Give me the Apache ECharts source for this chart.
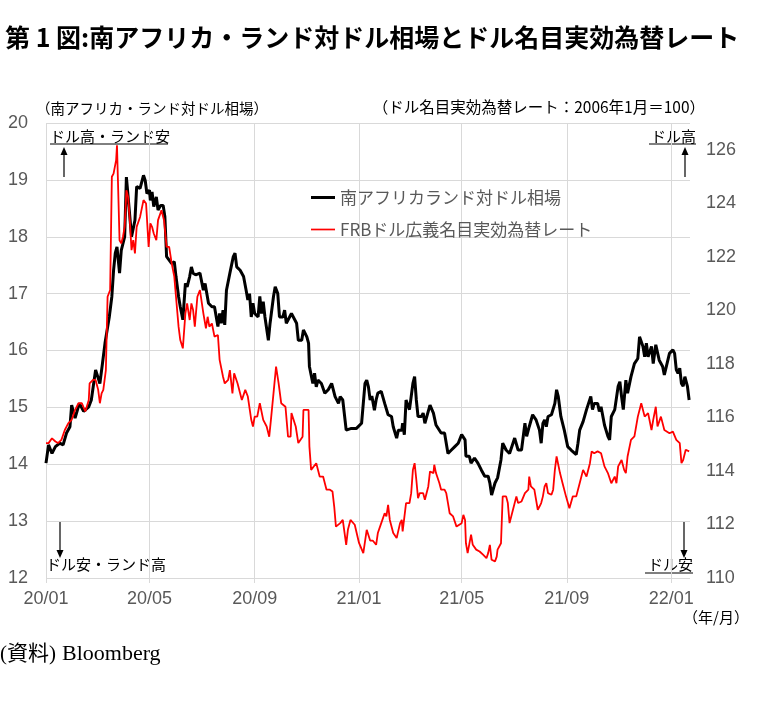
<!DOCTYPE html>
<html>
<head>
<meta charset="utf-8">
<script src="https://cdn.jsdelivr.net/npm/echarts@6/dist/echarts.min.js"></script>
<style>
  html, body { margin: 0; padding: 0; background: #fff; }
  #chart { width: 760px; height: 723px; }
</style>
</head>
<body>
<div id="chart"></div>
<script>
// 南アフリカ・ランド対ドル相場 (left axis)
const zarDates = [
  '2020-01-01','2020-01-04','2020-01-08','2020-01-12','2020-01-17','2020-01-21','2020-01-25','2020-01-29','2020-01-31',
  '2020-02-04','2020-02-09','2020-02-14','2020-02-20','2020-02-23','2020-02-28',
  '2020-03-04','2020-03-07','2020-03-10','2020-03-15','2020-03-18','2020-03-20','2020-03-22','2020-03-24','2020-03-27','2020-03-29',
  '2020-04-02','2020-04-04','2020-04-05','2020-04-07','2020-04-10','2020-04-14','2020-04-16','2020-04-20','2020-04-24','2020-04-26','2020-04-28',
  '2020-05-01','2020-05-02','2020-05-04','2020-05-06','2020-05-09','2020-05-11','2020-05-14','2020-05-17','2020-05-19','2020-05-21','2020-05-24','2020-05-27','2020-05-30',
  '2020-06-01','2020-06-04','2020-06-06','2020-06-09','2020-06-12','2020-06-14','2020-06-17','2020-06-19','2020-06-21','2020-06-24','2020-06-26','2020-06-29',
  '2020-07-03','2020-07-05','2020-07-09','2020-07-13','2020-07-16','2020-07-20','2020-07-22','2020-07-24','2020-07-26','2020-07-28','2020-07-30',
  '2020-08-03','2020-08-07','2020-08-09','2020-08-11','2020-08-15','2020-08-19','2020-08-22','2020-08-24','2020-08-26','2020-08-28','2020-08-30',
  '2020-09-01','2020-09-05','2020-09-07','2020-09-09','2020-09-11','2020-09-13','2020-09-17','2020-09-19','2020-09-23','2020-09-25','2020-09-28','2020-09-30',
  '2020-10-04','2020-10-06','2020-10-08','2020-10-14','2020-10-20','2020-10-22','2020-10-26','2020-10-28',
  '2020-11-01','2020-11-03','2020-11-04','2020-11-08','2020-11-10','2020-11-12','2020-11-14','2020-11-18','2020-11-22','2020-11-26','2020-11-30',
  '2020-12-04','2020-12-08','2020-12-10','2020-12-13','2020-12-17','2020-12-23','2020-12-29',
  '2021-01-04','2021-01-06','2021-01-08','2021-01-10','2021-01-12','2021-01-14','2021-01-16','2021-01-19','2021-01-21','2021-01-23','2021-01-27','2021-01-31',
  '2021-02-04','2021-02-08','2021-02-10','2021-02-14','2021-02-16','2021-02-20','2021-02-21','2021-02-23','2021-02-25',
  '2021-03-01','2021-03-05','2021-03-07','2021-03-09','2021-03-11','2021-03-15','2021-03-17','2021-03-19','2021-03-25','2021-03-29',
  '2021-04-01','2021-04-07','2021-04-11','2021-04-15','2021-04-19','2021-04-23','2021-04-27',
  '2021-05-01','2021-05-05','2021-05-06','2021-05-10','2021-05-12','2021-05-16','2021-05-20','2021-05-24','2021-05-28',
  '2021-06-01','2021-06-03','2021-06-05','2021-06-09','2021-06-12','2021-06-14','2021-06-16','2021-06-18','2021-06-22','2021-06-26','2021-06-30',
  '2021-07-02','2021-07-06','2021-07-10','2021-07-14','2021-07-16','2021-07-19','2021-07-23','2021-07-27','2021-07-31',
  '2021-08-02','2021-08-04','2021-08-06','2021-08-08','2021-08-10','2021-08-14','2021-08-18','2021-08-20','2021-08-22','2021-08-25','2021-08-29',
  '2021-09-02','2021-09-06','2021-09-12','2021-09-14','2021-09-16','2021-09-20','2021-09-24','2021-09-29',
  '2021-10-01','2021-10-03','2021-10-07','2021-10-09','2021-10-11','2021-10-15','2021-10-19','2021-10-21','2021-10-23','2021-10-27','2021-10-31',
  '2021-11-02','2021-11-04','2021-11-06','2021-11-09','2021-11-11','2021-11-15','2021-11-19','2021-11-23','2021-11-25','2021-11-27','2021-11-29',
  '2021-12-01','2021-12-03','2021-12-05','2021-12-09','2021-12-11','2021-12-14','2021-12-18','2021-12-22','2021-12-24','2021-12-26','2021-12-30',
  '2022-01-03','2022-01-05','2022-01-07','2022-01-09','2022-01-11','2022-01-13','2022-01-15','2022-01-17','2022-01-20','2022-01-22'
];
const zarValues = [
  14.02,14.34,14.19,14.31,14.37,14.34,14.55,14.66,15.04,
  14.81,15.07,14.93,15.01,15.13,15.66,
  15.42,15.77,16.13,16.59,16.95,17.41,17.71,17.82,17.36,17.76,
  18.00,19.05,18.88,18.53,18.00,18.29,18.88,18.85,19.08,18.99,18.76,
  18.82,18.64,18.79,18.53,18.70,18.47,18.55,18.55,18.35,17.65,17.59,17.53,17.56,
  17.30,16.95,16.77,16.54,17.18,17.12,17.30,17.47,17.36,17.33,17.36,17.36,
  17.06,17.18,16.83,16.77,16.77,16.42,16.65,16.48,16.71,16.45,17.06,
  17.36,17.65,17.71,17.47,17.41,17.30,17.06,16.89,17.00,16.59,16.83,
  16.65,16.59,16.95,16.65,16.86,16.59,16.18,16.48,16.95,17.12,17.00,16.59,
  16.59,16.71,16.48,16.65,16.48,16.18,16.18,16.36,
  16.24,16.13,15.72,15.42,15.60,15.36,15.48,15.42,15.25,15.31,15.42,
  15.19,15.07,15.19,15.13,14.60,14.63,14.63,
  14.72,15.07,15.42,15.48,15.36,15.13,15.20,14.95,15.13,15.25,15.28,15.07,
  14.87,14.84,14.66,14.46,14.60,14.60,14.72,14.52,15.13,
  14.96,15.42,15.54,15.13,14.84,14.84,14.90,14.72,15.04,14.90,
  14.69,14.55,14.55,14.19,14.25,14.31,14.37,
  14.52,14.43,14.14,14.14,14.02,14.11,14.02,13.90,13.79,
  13.79,13.67,13.46,13.67,13.76,13.79,14.08,14.37,14.25,14.19,14.37,
  14.46,14.25,14.25,14.72,14.49,14.66,14.87,14.78,14.60,
  14.37,14.72,14.78,14.66,14.84,14.87,15.07,15.31,15.19,14.84,14.60,
  14.31,14.25,14.17,14.37,14.60,14.75,14.96,15.19,
  14.96,15.07,15.07,14.93,15.01,14.69,14.49,14.43,14.84,14.96,15.37,
  15.45,15.19,14.96,15.48,15.25,15.54,15.77,15.86,16.24,16.27,16.07,
  15.89,16.13,15.89,16.07,15.77,16.10,15.83,15.72,15.57,15.54,15.95,
  16.01,15.95,15.66,15.60,15.69,15.42,15.37,15.54,15.37,15.13
];

// FRBドル広義名目実効為替レート (right axis, 2006年1月=100)
const usdDates = [
  '2020-01-01','2020-01-04','2020-01-08','2020-01-12','2020-01-15','2020-01-19','2020-01-23','2020-01-27','2020-01-31',
  '2020-02-04','2020-02-08','2020-02-12','2020-02-16','2020-02-20','2020-02-21','2020-02-25','2020-02-28',
  '2020-03-02','2020-03-04','2020-03-06','2020-03-08','2020-03-11','2020-03-13','2020-03-16','2020-03-18','2020-03-20','2020-03-23','2020-03-24','2020-03-25','2020-03-27','2020-03-29','2020-03-31',
  '2020-04-02','2020-04-04','2020-04-06','2020-04-08','2020-04-10','2020-04-12','2020-04-14','2020-04-16','2020-04-20','2020-04-24','2020-04-27','2020-04-30',
  '2020-05-02','2020-05-04','2020-05-06','2020-05-09','2020-05-11','2020-05-15','2020-05-18','2020-05-21','2020-05-24','2020-05-27','2020-05-30',
  '2020-06-01','2020-06-04','2020-06-06','2020-06-09','2020-06-12','2020-06-14','2020-06-17','2020-06-19','2020-06-21','2020-06-23','2020-06-26','2020-06-29',
  '2020-07-03','2020-07-06','2020-07-08','2020-07-10','2020-07-13','2020-07-16','2020-07-20','2020-07-22','2020-07-26','2020-07-28',
  '2020-08-01','2020-08-03','2020-08-06','2020-08-08','2020-08-12','2020-08-17','2020-08-21','2020-08-24','2020-08-28','2020-08-30',
  '2020-09-01','2020-09-04','2020-09-07','2020-09-11','2020-09-15','2020-09-18','2020-09-20','2020-09-23','2020-09-26','2020-09-29',
  '2020-10-02','2020-10-07','2020-10-10','2020-10-13','2020-10-14','2020-10-19','2020-10-22','2020-10-27','2020-10-28',
  '2020-11-03','2020-11-04','2020-11-06','2020-11-12','2020-11-16','2020-11-20','2020-11-24','2020-11-28',
  '2020-12-01','2020-12-03','2020-12-05','2020-12-10','2020-12-13','2020-12-17','2020-12-19','2020-12-22','2020-12-27',
  '2021-01-01','2021-01-06','2021-01-10','2021-01-14','2021-01-17','2021-01-21','2021-01-23','2021-01-27','2021-01-31',
  '2021-02-02','2021-02-04','2021-02-06','2021-02-10','2021-02-14','2021-02-18','2021-02-20','2021-02-21','2021-02-23','2021-02-25',
  '2021-03-01','2021-03-03','2021-03-05','2021-03-07','2021-03-09','2021-03-11','2021-03-13','2021-03-17','2021-03-19','2021-03-23','2021-03-25','2021-03-27','2021-03-29','2021-03-30',
  '2021-04-01','2021-04-05','2021-04-07','2021-04-11','2021-04-13','2021-04-15','2021-04-17','2021-04-21','2021-04-25','2021-04-27',
  '2021-05-01','2021-05-03','2021-05-05','2021-05-06','2021-05-08','2021-05-10','2021-05-12','2021-05-14','2021-05-18','2021-05-22','2021-05-26','2021-05-30',
  '2021-06-01','2021-06-03','2021-06-05','2021-06-09','2021-06-11','2021-06-12','2021-06-16','2021-06-18','2021-06-22','2021-06-24','2021-06-26','2021-06-30',
  '2021-07-04','2021-07-06','2021-07-10','2021-07-14','2021-07-18','2021-07-19','2021-07-21','2021-07-25','2021-07-29','2021-07-31',
  '2021-08-02','2021-08-04','2021-08-06','2021-08-08','2021-08-10','2021-08-14','2021-08-16','2021-08-18','2021-08-20','2021-08-24','2021-08-27','2021-08-31',
  '2021-09-04','2021-09-08','2021-09-12','2021-09-16','2021-09-20','2021-09-24','2021-09-28','2021-09-30',
  '2021-10-03','2021-10-07','2021-10-11','2021-10-15','2021-10-19','2021-10-23','2021-10-27','2021-10-29','2021-10-31',
  '2021-11-04','2021-11-07','2021-11-09','2021-11-11','2021-11-15','2021-11-19','2021-11-23','2021-11-27','2021-11-29',
  '2021-12-01','2021-12-05','2021-12-09','2021-12-11','2021-12-14','2021-12-16','2021-12-20','2021-12-24','2021-12-30',
  '2022-01-03','2022-01-07','2022-01-11','2022-01-13','2022-01-15','2022-01-18','2022-01-22'
];
const usdValues = [
  115.04,115.04,115.22,115.10,115.04,115.16,115.53,115.78,115.91,
  116.28,116.53,116.53,116.22,116.65,117.27,117.40,117.40,
  117.03,116.53,116.90,117.03,117.77,120.51,120.76,124.99,125.11,125.61,126.17,124.99,122.62,122.50,122.75,
  123.12,124.49,124.24,123.37,122.25,122.62,122.13,123.12,123.49,124.12,123.99,122.37,
  123.25,123.12,122.87,122.62,123.37,123.74,123.37,122.37,122.37,121.75,121.26,
  120.51,119.39,118.89,118.58,119.89,120.26,119.64,120.26,120.01,119.39,120.51,120.76,
  119.89,119.33,119.76,119.39,119.51,119.02,119.08,118.15,117.52,117.27,
  117.40,117.77,116.90,117.65,117.27,116.65,117.03,116.78,115.91,115.66,
  116.03,116.03,116.53,115.91,115.66,115.28,115.91,116.90,117.90,117.27,
  116.53,116.40,115.28,115.28,116.16,115.66,115.04,115.28,116.28,
  116.28,114.91,114.04,114.29,113.79,113.79,113.30,113.30,
  113.23,112.67,111.92,112.05,112.17,111.24,111.80,112.17,111.99,
  111.31,110.93,111.80,111.40,111.40,111.24,111.68,112.05,112.42,
  112.30,112.73,112.17,111.68,111.49,112.05,112.17,111.74,111.80,112.80,
  112.80,113.17,114.04,114.29,113.67,112.98,113.17,113.17,112.92,113.42,113.98,114.04,113.92,114.23,
  113.92,113.54,113.30,113.30,113.17,112.80,112.42,112.30,111.92,111.86,
  112.05,112.36,112.17,111.30,110.93,110.87,111.62,111.24,111.06,110.99,110.87,110.74,
  110.93,111.24,110.68,110.62,110.80,111.06,111.30,113.05,113.05,112.80,112.05,112.55,
  113.05,112.80,112.86,113.17,113.30,113.79,113.42,113.30,112.55,112.67,
  112.80,113.05,113.42,113.54,113.17,113.11,113.30,114.04,114.54,113.92,113.54,113.05,
  112.61,113.05,113.05,113.54,114.04,113.79,114.29,114.73,
  114.66,114.73,114.66,114.17,113.92,113.54,113.79,113.54,114.17,
  114.41,114.04,113.92,114.54,115.16,115.29,116.03,116.53,116.53,
  116.03,116.16,115.53,115.91,116.40,115.66,116.03,115.53,115.41,
  115.47,115.16,115.04,114.29,114.41,114.79,114.73
];

const xTickDates = ['2020-01-01','2020-05-01','2020-09-01','2021-01-01','2021-05-01','2021-09-01','2022-01-01'];
const xStart = '2020-01-01';
const xEnd = '2022-01-23';

const FONT_JP = "'Noto Sans CJK JP', sans-serif";
const FONT_NUM = "'Liberation Sans', Arial, sans-serif";
const FONT_SERIF = "'Liberation Serif', 'Noto Sans CJK JP', serif";
const GRID_COLOR = '#d9d9d9';
const LABEL_COLOR = '#595959';

function toTime(s) {
  const p = s.split('-');
  return new Date(+p[0], +p[1] - 1, +p[2]).getTime();
}

function pairs(dates, values) {
  return dates.map((d, i) => [toTime(d), values[i]]);
}

// 矢印（上向き/下向き）
function arrow(x, y1, y2) {
  const up = y2 < y1;
  const head = up ? y2 + 8 : y2 - 8;
  return [
    { type: 'line', shape: { x1: x, y1: y1, x2: x, y2: head }, style: { stroke: '#000', lineWidth: 1.2 } },
    { type: 'polygon', shape: { points: [[x, y2], [x - 3.5, head], [x + 3.5, head]] }, style: { fill: '#000' } }
  ];
}

function label(text, x, y, align, size, font) {
  return {
    type: 'text', x: x, y: y,
    style: { text: text, fill: '#000', font: (size || 15) + 'px ' + (font || FONT_JP), textAlign: align || 'left', textVerticalAlign: 'middle' }
  };
}

function underline(x1, x2, y) {
  return { type: 'line', shape: { x1: x1, y1: y, x2: x2, y2: y }, style: { stroke: '#000', lineWidth: 1 } };
}

const xTicks = xTickDates.map(toTime);

const chart = echarts.init(document.getElementById('chart'));

const option = {
  animation: false,
  backgroundColor: '#fff',
  title: {
    text: '第 1 図:南アフリカ・ランド対ドル相場とドル名目実効為替レート',
    left: 0,
    top: 20,
    textStyle: { fontFamily: FONT_JP, fontSize: 25, fontWeight: 'bold', color: '#000' }
  },
  grid: { left: 46, right: 70, top: 123, bottom: 145, containLabel: false },
  legend: {
    orient: 'vertical',
    left: 311,
    top: 189,
    padding: 0,
    itemWidth: 24,
    itemHeight: 14,
    itemGap: 15,
    textStyle: { fontFamily: FONT_JP, fontSize: 17, color: LABEL_COLOR },
    data: [
      { name: '南アフリカランド対ドル相場', icon: 'path://M0,0H24V3H0Z' },
      { name: 'FRBドル広義名目実効為替レート', icon: 'path://M0,0H24V1.7H0Z' }
    ]
  },
  xAxis: {
    type: 'value',
    min: toTime(xStart),
    max: toTime(xEnd),
    axisLine: { show: false },
    axisTick: { show: true, length: 5, lineStyle: { color: GRID_COLOR }, customValues: xTicks },
    axisLabel: {
      customValues: xTicks,
      margin: 12,
      color: LABEL_COLOR,
      fontFamily: FONT_NUM,
      fontSize: 18,
      formatter: function (v) {
        const d = new Date(v);
        return String(d.getFullYear()).slice(2) + '/' + String(d.getMonth() + 1).padStart(2, '0');
      }
    },
    splitLine: { show: true, lineStyle: { color: GRID_COLOR, width: 1 } }
  },
  yAxis: [
    {
      type: 'value',
      min: 12,
      max: 20,
      interval: 1,
      axisLine: { show: false },
      axisTick: { show: false },
      axisLabel: { color: LABEL_COLOR, fontFamily: FONT_NUM, fontSize: 18, margin: 18 },
      splitLine: { show: true, lineStyle: { color: GRID_COLOR, width: 1 } }
    },
    {
      type: 'value',
      position: 'right',
      min: 110,
      max: 127,
      interval: 2,
      axisLine: { show: false },
      axisTick: { show: false },
      axisLabel: { color: LABEL_COLOR, fontFamily: FONT_NUM, fontSize: 18, margin: 16, showMaxLabel: false },
      splitLine: { show: false }
    }
  ],
  series: [
    {
      name: '南アフリカランド対ドル相場',
      type: 'line',
      yAxisIndex: 0,
      symbol: 'none',
      color: '#000',
      lineStyle: { color: '#000', width: 3 },
      data: pairs(zarDates, zarValues)
    },
    {
      name: 'FRBドル広義名目実効為替レート',
      type: 'line',
      yAxisIndex: 1,
      symbol: 'none',
      color: '#ff0000',
      lineStyle: { color: '#ff0000', width: 1.8 },
      data: pairs(usdDates, usdValues)
    }
  ],
  graphic: [
    label('（南アフリカ・ランド対ドル相場）', 36, 108, 'left', 14.5),
    label('（ドル名目実効為替レート：2006年1月＝100）', 705, 107, 'right', 15.5),
    label('ドル高・ランド安', 50, 136),
    underline(50, 168, 144),
    ...arrow(64, 177, 147),
    label('ドル高', 696, 136, 'right'),
    underline(649, 696, 144),
    ...arrow(685, 177, 147),
    ...arrow(60, 521, 558),
    label('ドル安・ランド高', 46, 564),
    ...arrow(684, 521, 558),
    label('ドル安', 693, 564, 'right'),
    underline(645, 693, 573),
    label('（年/月）', 683, 617),
    label('(資料)', 0, 654, 'left', 21, FONT_SERIF),
    label('Bloomberg', 62, 654, 'left', 22, FONT_SERIF)
  ]
};

chart.setOption(option);
</script>
</body>
</html>
